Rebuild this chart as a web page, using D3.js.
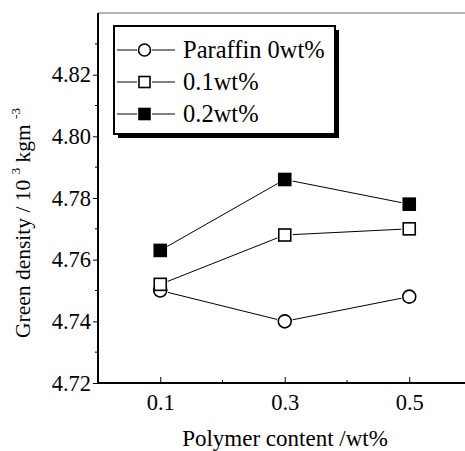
<!DOCTYPE html>
<html>
<head>
<meta charset="utf-8">
<script src="https://cdn.jsdelivr.net/npm/d3@7"></script>
<style>
  body { margin: 0; background: #fff; }
  svg text { font-family: "Liberation Serif", "DejaVu Serif", serif; fill: #000; }
</style>
</head>
<body>
<div id="chart"></div>
<script>
// Дані з графіка
const polymer = [0.1, 0.3, 0.5];
const paraffin0 = [4.750, 4.740, 4.748];
const paraffin01 = [4.752, 4.768, 4.770];
const paraffin02 = [4.763, 4.786, 4.778];
const seriesNames = ["Paraffin 0wt%", "0.1wt%", "0.2wt%"];
const yTicks = [4.72, 4.74, 4.76, 4.78, 4.80, 4.82];
const xTicks = [0.1, 0.3, 0.5];

const WIDTH = 465, HEIGHT = 451;
const plotLeft = 98, plotTop = 13, plotBottom = 383;

const svg = d3.select('#chart').append('svg')
  .attr('width', WIDTH).attr('height', HEIGHT);

const x = d3.scaleLinear().domain([0, 0.6]).range([plotLeft, plotLeft + 373.5]);
const y = d3.scaleLinear().domain([4.72, 4.84]).range([plotBottom, plotTop]);

// верхня рамка
svg.append('line')
  .attr('x1', plotLeft).attr('x2', WIDTH)
  .attr('y1', plotTop).attr('y2', plotTop)
  .attr('stroke', '#999').attr('stroke-width', 1.5);

// вісь Y
const yMinor = d3.range(4.73, 4.84, 0.02);
svg.append('g').selectAll('line').data(yMinor).join('line')
  .attr('x1', plotLeft - 3).attr('x2', plotLeft)
  .attr('y1', d => y(d)).attr('y2', d => y(d))
  .attr('stroke', '#000').attr('stroke-width', 1);
const yAxis = svg.append('g')
  .attr('transform', `translate(${plotLeft},0)`)
  .call(d3.axisLeft(y).tickValues(yTicks).tickFormat(d3.format('.2f')).tickSize(5).tickPadding(2));
yAxis.select('.domain').remove();
yAxis.selectAll('.tick line').attr('stroke-width', 1);
yAxis.selectAll('.tick text').attr('font-size', 22.5).style('font-family', '"Liberation Serif", serif');
svg.append('line')
  .attr('x1', plotLeft).attr('x2', plotLeft)
  .attr('y1', plotTop).attr('y2', plotBottom + 1)
  .attr('stroke', '#000').attr('stroke-width', 2);

// вісь X (поділки всередину)
const xMinor = [0.2, 0.4];
svg.append('g').selectAll('line').data(xMinor).join('line')
  .attr('x1', d => x(d)).attr('x2', d => x(d))
  .attr('y1', plotBottom).attr('y2', plotBottom - 3)
  .attr('stroke', '#000').attr('stroke-width', 1);
const xAxis = svg.append('g')
  .attr('transform', `translate(0,${plotBottom})`)
  .call(d3.axisBottom(x).tickValues(xTicks).tickFormat(d3.format('.1f')).tickSize(-6).tickPadding(11));
xAxis.select('.domain').remove();
xAxis.selectAll('.tick line').attr('stroke-width', 1);
xAxis.selectAll('.tick text').attr('font-size', 22.5).style('font-family', '"Liberation Serif", serif');
svg.append('line')
  .attr('x1', plotLeft - 1).attr('x2', WIDTH)
  .attr('y1', plotBottom).attr('y2', plotBottom)
  .attr('stroke', '#000').attr('stroke-width', 2);

// підписи осей
svg.append('text')
  .attr('x', 285).attr('y', 446)
  .attr('text-anchor', 'middle').attr('font-size', 23)
  .text('Polymer content /wt%');

const yTitle = svg.append('text')
  .attr('transform', 'translate(30,223) rotate(-90)')
  .attr('text-anchor', 'middle').attr('font-size', 21.5);
yTitle.append('tspan').text('Green density / 10 ');
yTitle.append('tspan').attr('font-size', 13).attr('dy', -10).text('3');
yTitle.append('tspan').attr('dy', 10).text(' kgm ');
yTitle.append('tspan').attr('font-size', 13).attr('dy', -10).text('-3');

// серії
const series = [
  { values: paraffin0, marker: 'circle', fill: '#fff' },
  { values: paraffin01, marker: 'square', fill: '#fff' },
  { values: paraffin02, marker: 'square', fill: '#000' }
];
const GAP = 8;

function drawMarker(g, type, fill, cx, cy, size) {
  if (type === 'circle') {
    g.append('circle').attr('cx', cx).attr('cy', cy).attr('r', size / 2 + 0.5)
      .attr('fill', fill).attr('stroke', '#000').attr('stroke-width', 1.6);
  } else {
    g.append('rect').attr('x', cx - size / 2).attr('y', cy - size / 2)
      .attr('width', size).attr('height', size)
      .attr('fill', fill).attr('stroke', '#000').attr('stroke-width', 1.6);
  }
}

series.forEach(s => {
  const pts = polymer.map((p, i) => [x(p), y(s.values[i])]);
  const g = svg.append('g');
  // відрізки з проміжком біля маркерів
  for (let i = 0; i < pts.length - 1; i++) {
    const [x1, y1] = pts[i], [x2, y2] = pts[i + 1];
    const len = Math.hypot(x2 - x1, y2 - y1);
    const ux = (x2 - x1) / len, uy = (y2 - y1) / len;
    g.append('line')
      .attr('x1', x1 + ux * GAP).attr('y1', y1 + uy * GAP)
      .attr('x2', x2 - ux * GAP).attr('y2', y2 - uy * GAP)
      .attr('stroke', '#000').attr('stroke-width', 1);
  }
  pts.forEach(([cx, cy]) => drawMarker(g, s.marker, s.fill, cx, cy, 12));
});

// легенда
const lg = svg.append('g');
lg.append('rect').attr('x', 118).attr('y', 30).attr('width', 221).attr('height', 108).attr('fill', '#000');
lg.append('rect').attr('x', 114).attr('y', 26).attr('width', 221).attr('height', 108)
  .attr('fill', '#fff').attr('stroke', '#000').attr('stroke-width', 2);
const rowY = [50, 82, 114];
series.forEach((s, i) => {
  const cy = rowY[i];
  lg.append('line').attr('x1', 117).attr('x2', 137).attr('y1', cy).attr('y2', cy)
    .attr('stroke', '#000').attr('stroke-width', 1);
  lg.append('line').attr('x1', 152).attr('x2', 175).attr('y1', cy).attr('y2', cy)
    .attr('stroke', '#000').attr('stroke-width', 1);
  drawMarker(lg, s.marker, s.fill, 144.5, cy, 11);
  lg.append('text').attr('x', 183).attr('y', cy + 8).attr('font-size', 24.5).text(seriesNames[i]);
});
</script>
</body>
</html>
